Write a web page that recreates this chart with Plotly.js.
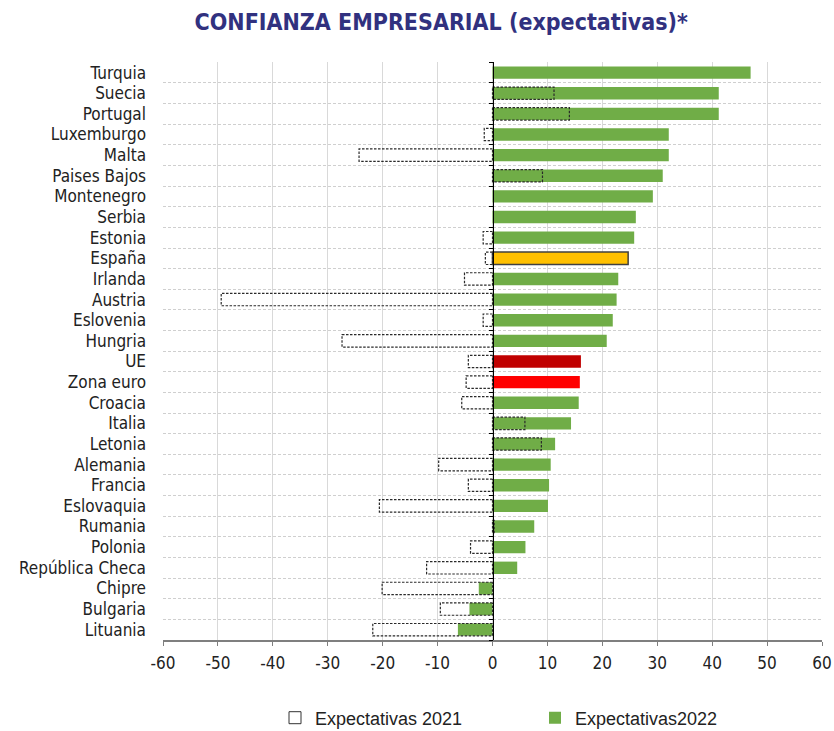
<!DOCTYPE html>
<html>
<head>
<meta charset="utf-8">
<script src="https://cdn.plot.ly/plotly-3.0.1.min.js"></script>
<style>html,body{margin:0;padding:0;background:#fff;}#chart{width:834px;height:731px;}</style>
</head>
<body>
<div id="chart"></div>
<script>
const countries = ["Turquia","Suecia","Portugal","Luxemburgo","Malta","Paises Bajos","Montenegro","Serbia","Estonia","España","Irlanda","Austria","Eslovenia","Hungria","UE","Zona euro","Croacia","Italia","Letonia","Alemania","Francia","Eslovaquia","Rumania","Polonia","República Checa","Chipre","Bulgaria","Lituania"];
const exp2021 = [null,11.2,14.0,-1.5,-24.3,9.1,null,null,-1.7,-1.3,-5.1,-49.4,-1.7,-27.4,-4.4,-4.8,-5.6,5.9,8.9,-9.8,-4.4,-20.6,0.3,-4.0,-12.0,-20.1,-9.5,-21.8];
const exp2022 = [47.0,41.2,41.2,32.1,32.1,31.0,29.2,26.1,25.8,24.7,22.9,22.6,21.9,20.8,16.1,15.9,15.7,14.3,11.4,10.6,10.3,10.1,7.6,6.0,4.5,-2.5,-4.2,-6.3];
const xTicks = [-60,-50,-40,-30,-20,-10,0,10,20,30,40,50,60];

const GREEN = "#70AD47";
const highlight = {"España":"#FFC000","UE":"#C00000","Zona euro":"#FF0000"};
const idx = countries.map((c,i)=>i);
const bounds = [-0.5].concat(idx.map(i=>i+0.5));
const HALF = 0.3;

const colors2022 = countries.map(c => highlight[c] || GREEN);
const lineW2022 = countries.map(c => c === "España" ? 1.5 : 0);

// dashed outline path for 2021 bars
const ox = [], oy = [];
exp2021.forEach((v,i)=>{
  if (v === null) return;
  ox.push(0, v, v, 0, 0, null);
  oy.push(i-HALF, i-HALF, i+HALF, i+HALF, i-HALF, null);
});

const narrow = '"Liberation Sans Narrow", "Arial Narrow", "DejaVu Sans Condensed", sans-serif';

const traces = [
  {type:'bar', orientation:'h', x:[null], y:[null], name:'Expectativas 2021',
   marker:{color:'#FFFFFF', line:{color:'#333333', width:1}}, hoverinfo:'skip'},
  {type:'bar', orientation:'h', x:exp2022, y:idx, name:'Expectativas2022', width:0.6,
   marker:{color:colors2022, line:{color:'#404040', width:lineW2022}}},
  {type:'bar', orientation:'h', x:exp2021, y:idx, name:'Expectativas 2021 ', width:0.6,
   showlegend:false, marker:{color:'rgba(255,255,255,0)', line:{width:0}}},
  {type:'scatter', mode:'lines', x:ox, y:oy, yaxis:'y2', showlegend:false, hoverinfo:'skip',
   line:{color:'#2A2A2A', width:1.2, dash:'2.5px,1.5px'}}
];

const yr = [countries.length-0.5, -0.515];
const layout = {
  width:834, height:731,
  paper_bgcolor:'#FFFFFF', plot_bgcolor:'#FFFFFF',
  margin:{l:163, r:12, t:62, b:91},
  barmode:'overlay',
  title:{text:'<b>CONFIANZA EMPRESARIAL (expectativas)*</b>', x:0.529, xanchor:'center', xref:'container',
         y:0.97, yanchor:'middle', yref:'container',
         font:{family:narrow, size:23, color:'#31317F'}},
  xaxis:{range:[-60,60], tickvals:xTicks, ticktext:xTicks.map(String), showgrid:true, gridcolor:'#D9D9D9', gridwidth:1,
         zeroline:false, showline:true, linecolor:'#7F7F7F', linewidth:1.5, ticks:'outside', ticklen:4, tickcolor:'#7F7F7F',
         ticklabelstandoff:3,
         tickfont:{family:narrow, size:17, color:'#222222'}, fixedrange:true},
  yaxis:{range:yr, tickmode:'array', tickvals:idx, ticktext:countries, showgrid:false, zeroline:false, showline:false,
         ticks:'', ticklabelstandoff:16, tickfont:{family:narrow, size:17, color:'#222222'},
         minor:{tickmode:'array', tickvals:bounds, showgrid:true, gridcolor:'#CFCFCF', gridwidth:1, griddash:'3px,2px', ticks:''},
         fixedrange:true},
  yaxis2:{range:yr, overlaying:'y', anchor:'free', position:0.5, side:'left', showline:true, linecolor:'#000000', linewidth:1,
          ticks:'outside', ticklen:4, tickcolor:'#000000', tickmode:'array', tickvals:bounds, showticklabels:false,
          showgrid:false, zeroline:false, fixedrange:true},
  legend:{orientation:'h', x:275/834, xanchor:'left', xref:'container', y:13/731, yanchor:'middle', yref:'container',
          font:{family:'"Liberation Sans", Arial, sans-serif', size:18, color:'#222222'}, entrywidth:215, itemwidth:30,
          traceorder:'normal'},
  showlegend:true
};

Plotly.newPlot('chart', traces, layout, {displayModeBar:false, staticPlot:true});
</script>
</body>
</html>
